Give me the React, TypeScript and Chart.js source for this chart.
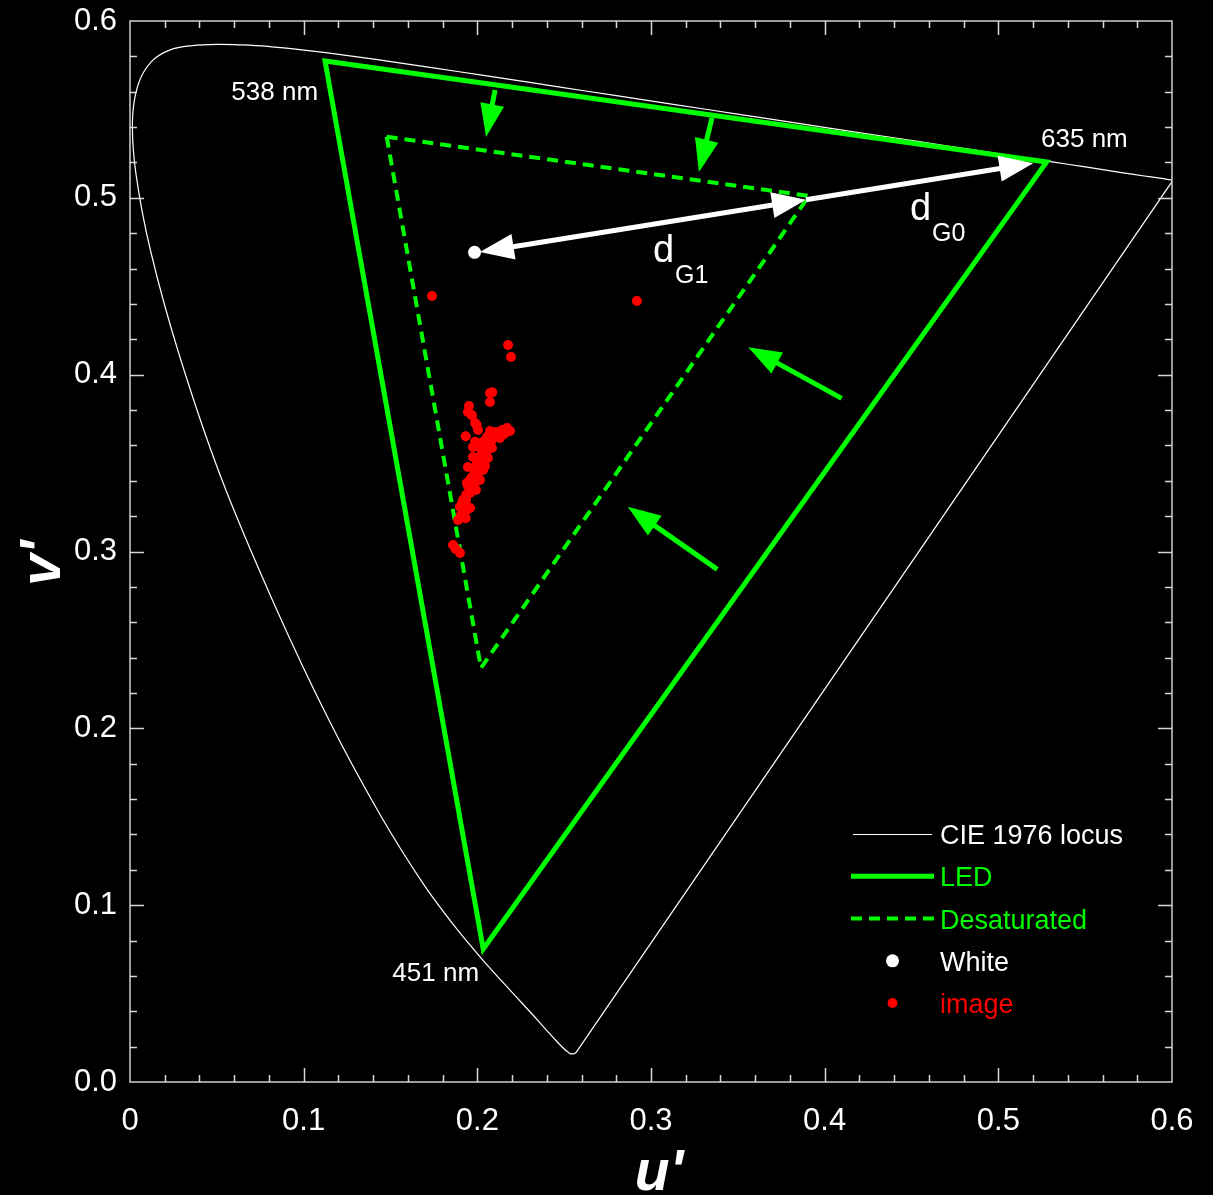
import React, { useEffect, useRef } from "react";
import { Chart, registerables } from "chart.js";

Chart.register(...registerables);

const FONT = "'Liberation Sans', Arial, Helvetica, sans-serif";
const GREEN = "#00ff00";
const RED = "#ff0000";
const WHITE = "#ffffff";

// CIE 1976 spectral locus, 380–650 nm in 5 nm steps
const LOCUS_U = [
  0.2568, 0.2566, 0.2564, 0.2561, 0.2557, 0.2552, 0.2545, 0.2537, 0.2522, 0.2496,
  0.2461, 0.2411, 0.2347, 0.2266, 0.2161, 0.2033, 0.1877, 0.169, 0.1441, 0.1147,
  0.0828, 0.0521, 0.0282, 0.0119, 0.0035, 0.0014, 0.0046, 0.0123, 0.0231, 0.036,
  0.0501, 0.0643, 0.0792, 0.0953, 0.1127, 0.1319, 0.1531, 0.1766, 0.2026, 0.2312,
  0.2623, 0.296, 0.3315, 0.3681, 0.4035, 0.4379, 0.4692, 0.4968, 0.5203, 0.5399,
  0.5565, 0.5709, 0.583, 0.5929, 0.6005,
];
const LOCUS_V = [
  0.0166, 0.0166, 0.0163, 0.0163, 0.0159, 0.0159, 0.0159, 0.0159, 0.0169, 0.0191,
  0.0226, 0.0279, 0.035, 0.0437, 0.0549, 0.0688, 0.0871, 0.1119, 0.151, 0.2044,
  0.2708, 0.3427, 0.4117, 0.4698, 0.5131, 0.5432, 0.5638, 0.577, 0.5837, 0.5861,
  0.5868, 0.5865, 0.5857, 0.5841, 0.5821, 0.5796, 0.5766, 0.5732, 0.5694, 0.5651,
  0.5604, 0.5554, 0.5501, 0.5446, 0.5393, 0.5342, 0.5296, 0.5254, 0.5219, 0.519,
  0.5165, 0.5143, 0.5125, 0.5111, 0.5099,
];
// Line of purples (650 nm back to 380 nm)
const PURPLE_U = [0.6005, 0.2568];
const PURPLE_V = [0.5099, 0.0166];

// LED gamut triangle (538 nm, 635 nm, 451 nm), repeated 2nd vertex for a clean corner
const LED_U = [0.1123, 0.5278, 0.2034, 0.1123, 0.5278];
const LED_V = [0.5774, 0.5203, 0.0752, 0.5774, 0.5203];

// Desaturated triangle
const DESAT_U = [0.1478, 0.391, 0.2021, 0.1478];
const DESAT_V = [0.5346, 0.5011, 0.2341, 0.5346];

// White point
const WHITE_U = [0.1984];
const WHITE_V = [0.4692];

// Image chromaticities
const IMAGE_U = [
  0.1739, 0.2919, 0.2177, 0.2194, 0.2073, 0.2086, 0.2073, 0.1952, 0.1946, 0.1969,
  0.1987, 0.2004, 0.1933, 0.2171, 0.2142, 0.2113, 0.209, 0.2056, 0.2033, 0.1987,
  0.2015, 0.1975, 0.2027, 0.2044, 0.1975, 0.2015, 0.1998, 0.1946, 0.2033, 0.2004,
  0.1969, 0.194, 0.1975, 0.1958, 0.1958, 0.1935, 0.1917, 0.1912, 0.19, 0.1935,
  0.1933, 0.186, 0.1875, 0.19, 0.2015, 0.1987, 0.1958, 0.1935, 0.2061, 0.2084,
  0.1996, 0.1967, 0.1912, 0.1935, 0.1958, 0.1946, 0.1981, 0.1969, 0.1998, 0.1987,
  0.2015, 0.2004, 0.2033, 0.2021, 0.205, 0.2038, 0.2067, 0.2056, 0.2084, 0.2073,
  0.2107, 0.1958, 0.1929, 0.1906, 0.1889, 0.1992, 0.2015, 0.2044, 0.2061, 0.2084,
  0.213, 0.2154, 0.2188,
];
const IMAGE_V = [
  0.4445, 0.4417, 0.4168, 0.41, 0.3896, 0.39, 0.3845, 0.3823, 0.3789, 0.377,
  0.3727, 0.3687, 0.3652, 0.3698, 0.3687, 0.367, 0.3659, 0.3648, 0.362, 0.362,
  0.3591, 0.3591, 0.3574, 0.3546, 0.3534, 0.3517, 0.35, 0.3478, 0.3461, 0.3444,
  0.3421, 0.3387, 0.3365, 0.3348, 0.3331, 0.332, 0.3291, 0.3274, 0.3252, 0.3235,
  0.3188, 0.3037, 0.3015, 0.2992, 0.3603, 0.3461, 0.3404, 0.3291, 0.3603, 0.3631,
  0.3715, 0.3772, 0.3263, 0.3303, 0.3337, 0.337, 0.3382, 0.3416, 0.3427, 0.3461,
  0.3472, 0.3506, 0.3517, 0.3546, 0.3563, 0.3597, 0.3608, 0.3642, 0.3653, 0.3681,
  0.3676, 0.3246, 0.3223, 0.3206, 0.3178, 0.3348, 0.3404, 0.3483, 0.3529, 0.3585,
  0.3642, 0.3665, 0.3681,
];

// Distance arrows (white): d_G1 double headed, d_G0 single headed
const DG1_FROM = [0.2015, 0.4693];
const DG1_TO = [0.3892, 0.4989];
const DG0_FROM = [0.3892, 0.4989];
const DG0_TO = [0.5201, 0.5196];

// Desaturation arrows (green): tail u, tail v, tip u, tip v
const GREEN_TAIL_U = [0.2102, 0.3351, 0.4098, 0.3382];
const GREEN_TAIL_V = [0.561, 0.5452, 0.3866, 0.2899];
const GREEN_TIP_U = [0.205, 0.3276, 0.356, 0.2866];
const GREEN_TIP_V = [0.5344, 0.5146, 0.4155, 0.3253];

// Axis ticks
const X_TICK_LABELS = ["0", "0.1", "0.2", "0.3", "0.4", "0.5", "0.6"];
const Y_TICK_LABELS = ["0.0", "0.1", "0.2", "0.3", "0.4", "0.5", "0.6"];

// Wavelength labels: text, u, v (baseline anchor), alignment
const WL_TEXT = ["538 nm", "635 nm", "451 nm"];
const WL_U = [0.1083, 0.5246, 0.201];
const WL_V = [0.5553, 0.5288, 0.0571];
const WL_ALIGN: CanvasTextAlign[] = ["right", "left", "right"];

const LEGEND_TEXT = ["CIE 1976 locus", "LED", "Desaturated", "White", "image"];
const LEGEND_COLOR = [WHITE, GREEN, GREEN, WHITE, RED];

const toPts = (us: number[], vs: number[]) => us.map((u, i) => ({ x: u, y: vs[i] }));

function arrowHead(ctx: CanvasRenderingContext2D, tx: number, ty: number, ux: number, uy: number, L: number, W: number) {
  const bx = tx - ux * L;
  const by = ty - uy * L;
  const nx = -uy;
  const ny = ux;
  ctx.beginPath();
  ctx.moveTo(tx, ty);
  ctx.lineTo(bx + nx * W, by + ny * W);
  ctx.lineTo(bx - nx * W, by - ny * W);
  ctx.closePath();
  ctx.fill();
}

function drawArrow(
  ctx: CanvasRenderingContext2D,
  x0: number, y0: number, x1: number, y1: number,
  color: string, width: number, L: number, W: number, both: boolean
) {
  const dx = x1 - x0;
  const dy = y1 - y0;
  const len = Math.hypot(dx, dy);
  const ux = dx / len;
  const uy = dy / len;
  const sx = both ? x0 + ux * L * 0.8 : x0;
  const sy = both ? y0 + uy * L * 0.8 : y0;
  ctx.strokeStyle = color;
  ctx.fillStyle = color;
  ctx.lineWidth = width;
  ctx.lineCap = "butt";
  ctx.beginPath();
  ctx.moveTo(sx, sy);
  ctx.lineTo(x1 - ux * L * 0.8, y1 - uy * L * 0.8);
  ctx.stroke();
  arrowHead(ctx, x1, y1, ux, uy, L, W);
  if (both) arrowHead(ctx, x0, y0, -ux, -uy, L, W);
}

const overlayPlugin = {
  id: "overlay",
  afterDatasetsDraw(chart: any) {
    const { ctx, chartArea } = chart;
    const xs = chart.scales.x;
    const ys = chart.scales.y;
    const px = (u: number) => xs.getPixelForValue(u);
    const py = (v: number) => ys.getPixelForValue(v);
    const { left, right, top, bottom } = chartArea;

    ctx.save();

    // green desaturation arrows
    for (let i = 0; i < GREEN_TAIL_U.length; i++) {
      drawArrow(ctx, px(GREEN_TAIL_U[i]), py(GREEN_TAIL_V[i]), px(GREEN_TIP_U[i]), py(GREEN_TIP_V[i]), GREEN, 5, 33, 12, false);
    }
    // white distance arrows
    drawArrow(ctx, px(DG1_FROM[0]), py(DG1_FROM[1]), px(DG1_TO[0]), py(DG1_TO[1]), WHITE, 5, 34, 13, true);
    drawArrow(ctx, px(DG0_FROM[0]), py(DG0_FROM[1]), px(DG0_TO[0]), py(DG0_TO[1]), WHITE, 5, 34, 13, false);

    // d labels
    ctx.fillStyle = WHITE;
    ctx.textBaseline = "alphabetic";
    ctx.textAlign = "left";
    const dLabel = (u: number, v: number, sub: string) => {
      const x = px(u);
      const y = py(v);
      ctx.font = `38px ${FONT}`;
      ctx.fillText("d", x, y);
      const w = ctx.measureText("d").width;
      ctx.font = `25px ${FONT}`;
      ctx.fillText(sub, x + w + 1, y + 21);
    };
    dLabel(0.3011, 0.4637, "G1");
    dLabel(0.4491, 0.4875, "G0");

    // wavelength labels
    ctx.font = `26px ${FONT}`;
    for (let i = 0; i < WL_TEXT.length; i++) {
      ctx.textAlign = WL_ALIGN[i];
      ctx.fillText(WL_TEXT[i], px(WL_U[i]), py(WL_V[i]));
    }

    // frame
    ctx.strokeStyle = "#d0d0d0";
    ctx.lineWidth = 1.5;
    ctx.strokeRect(left, top, right - left, bottom - top);

    // ticks (inward, all four sides), major 0.1, minor 0.02
    ctx.strokeStyle = "#d8d8d8";
    ctx.lineWidth = 1.5;
    ctx.beginPath();
    for (let i = 1; i < 30; i++) {
      const val = i * 0.02;
      const len = i % 5 === 0 ? 14 : 7;
      const x = Math.round(px(val)) + 0.5;
      const y = Math.round(py(val)) + 0.5;
      ctx.moveTo(x, bottom); ctx.lineTo(x, bottom - len);
      ctx.moveTo(x, top); ctx.lineTo(x, top + len);
      ctx.moveTo(left, y); ctx.lineTo(left + len, y);
      ctx.moveTo(right, y); ctx.lineTo(right - len, y);
    }
    ctx.stroke();

    // axis titles
    ctx.fillStyle = WHITE;
    ctx.font = `italic bold 57px ${FONT}`;
    ctx.textAlign = "center";
    ctx.textBaseline = "alphabetic";
    ctx.fillText("u'", (left + right) / 2 + 8, 1190);
    ctx.save();
    ctx.translate(60, 563);
    ctx.rotate(-Math.PI / 2);
    ctx.fillText("v'", 0, 0);
    ctx.restore();

    // legend
    const lx0 = right - 321;
    const lx1 = right - 238;
    const tx = right - 232;
    const rowY = [834, 876.3, 918.5, 960.8, 1003];
    ctx.font = `27px ${FONT}`;
    ctx.textAlign = "left";
    ctx.textBaseline = "alphabetic";
    ctx.strokeStyle = WHITE; ctx.lineWidth = 1; ctx.setLineDash([]);
    ctx.beginPath(); ctx.moveTo(lx0 + 2, rowY[0] + 0.5); ctx.lineTo(lx1 - 2, rowY[0] + 0.5); ctx.stroke();
    ctx.strokeStyle = GREEN; ctx.lineWidth = 5;
    ctx.beginPath(); ctx.moveTo(lx0, rowY[1]); ctx.lineTo(lx1, rowY[1]); ctx.stroke();
    ctx.lineWidth = 4; ctx.setLineDash([11, 7]);
    ctx.beginPath(); ctx.moveTo(lx0, rowY[2]); ctx.lineTo(lx1, rowY[2]); ctx.stroke();
    ctx.setLineDash([]);
    const cx = (lx0 + lx1) / 2;
    ctx.fillStyle = WHITE;
    ctx.beginPath(); ctx.arc(cx, rowY[3], 6.5, 0, Math.PI * 2); ctx.fill();
    ctx.fillStyle = RED;
    ctx.beginPath(); ctx.arc(cx, rowY[4], 5, 0, Math.PI * 2); ctx.fill();
    for (let i = 0; i < LEGEND_TEXT.length; i++) {
      ctx.fillStyle = LEGEND_COLOR[i];
      ctx.fillText(LEGEND_TEXT[i], tx, rowY[i] + 10);
    }

    ctx.restore();
  },
};

export default function App() {
  const canvasRef = useRef<HTMLCanvasElement | null>(null);

  useEffect(() => {
    document.body.style.margin = "0";
    document.body.style.background = "#000";
    const canvas = canvasRef.current;
    if (!canvas) return;

    const chart = new Chart(canvas, {
      type: "scatter",
      data: {
        datasets: [
          {
            label: "image",
            data: toPts(IMAGE_U, IMAGE_V),
            backgroundColor: RED,
            borderWidth: 0,
            pointRadius: 5,
            showLine: false,
            order: 0,
          },
          {
            label: "White",
            data: toPts(WHITE_U, WHITE_V),
            backgroundColor: WHITE,
            borderWidth: 0,
            pointRadius: 6.5,
            showLine: false,
            order: 1,
          },
          {
            label: "Desaturated",
            data: toPts(DESAT_U, DESAT_V),
            borderColor: GREEN,
            borderWidth: 4,
            borderDash: [11, 7],
            pointRadius: 0,
            showLine: true,
            tension: 0,
            order: 4,
          },
          {
            label: "LED",
            data: toPts(LED_U, LED_V),
            borderColor: GREEN,
            borderWidth: 5,
            borderJoinStyle: "miter",
            pointRadius: 0,
            showLine: true,
            tension: 0,
            order: 5,
          },
          {
            label: "CIE 1976 locus",
            data: toPts(LOCUS_U, LOCUS_V),
            borderColor: WHITE,
            borderWidth: 1.2,
            pointRadius: 0,
            showLine: true,
            tension: 0.35,
            order: 6,
          },
          {
            label: "purples",
            data: toPts(PURPLE_U, PURPLE_V),
            borderColor: WHITE,
            borderWidth: 1.2,
            pointRadius: 0,
            showLine: true,
            tension: 0,
            order: 7,
          },
        ],
      },
      options: {
        responsive: false,
        maintainAspectRatio: false,
        animation: false,
        events: [],
        layout: { padding: { top: 21, right: 41, left: 0, bottom: 0 } },
        plugins: {
          legend: { display: false },
          tooltip: { enabled: false },
        },
        scales: {
          x: {
            type: "linear",
            min: 0,
            max: 0.6,
            grid: { display: false, drawTicks: false },
            border: { display: false },
            ticks: {
              stepSize: 0.1,
              autoSkip: false,
              maxRotation: 0,
              color: WHITE,
              padding: 21,
              font: { family: FONT, size: 31 },
              callback: (_v: any, i: number) => X_TICK_LABELS[i],
            },
            afterFit: (s: any) => {
              s.height = 113;
              s.paddingLeft = 0;
              s.paddingRight = 0;
            },
          },
          y: {
            type: "linear",
            min: 0,
            max: 0.6,
            grid: { display: false, drawTicks: false },
            border: { display: false },
            ticks: {
              stepSize: 0.1,
              autoSkip: false,
              color: WHITE,
              padding: 13,
              font: { family: FONT, size: 31 },
              callback: (_v: any, i: number) => Y_TICK_LABELS[i],
            },
            afterFit: (s: any) => {
              s.width = 130;
              s.paddingTop = 0;
              s.paddingBottom = 0;
            },
          },
        },
      } as any,
      plugins: [overlayPlugin],
    });

    return () => chart.destroy();
  }, []);

  return (
    <div style={{ width: 1213, height: 1195, background: "#000" }}>
      <canvas ref={canvasRef} width={1213} height={1195} style={{ display: "block" }} />
    </div>
  );
}
